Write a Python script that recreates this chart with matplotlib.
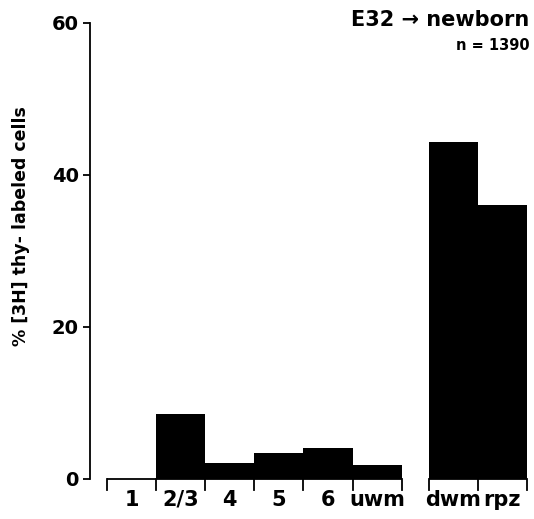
import numpy as np
import matplotlib.pyplot as plt

# Distribution of [3H]thymidine-labeled cells by layer, E32 -> newborn
cortex_layers = ['1', '2/3', '4', '5', '6', 'uwm']
cortex_values = [0.0, 8.5, 2.1, 3.4, 4.1, 1.8]
deep_layers = ['dwm', 'rpz']
deep_values = [44.3, 36.0]
y_ticks = [0, 20, 40, 60]

plt.rcParams['font.family'] = ['DejaVu Sans']
plt.rcParams['font.weight'] = 'bold'

fig = plt.figure(figsize=(5.34, 5.19), dpi=100)
ax = fig.add_axes([0.1685, 0.0771, 0.8185, 0.8786])

gap = 0.55
x1 = np.arange(len(cortex_layers))
x2 = np.arange(len(deep_layers)) + len(cortex_layers) + gap

ax.bar(x1, cortex_values, width=1.0, color='black', linewidth=0)
ax.bar(x2, deep_values, width=1.0, color='black', linewidth=0)

ax.set_xlim(-0.845, x2[-1] + 0.5)
ax.set_ylim(0, 60)

# y axis
ax.spines['top'].set_visible(False)
ax.spines['right'].set_visible(False)
ax.spines['bottom'].set_visible(False)
ax.spines['left'].set_linewidth(1.3)
ax.set_yticks(y_ticks)
ax.set_yticklabels([str(t) for t in y_ticks], fontsize=14, fontweight='bold')
ax.tick_params(axis='y', direction='out', length=5, width=1.3, pad=3)
ax.set_ylabel('% [3H] thy- labeled cells', fontsize=12.5, fontweight='bold')
ax.yaxis.set_label_coords(-0.137, 0.555)

# x axis: two separate baselines with ticks at bar edges
ax.set_xticks([])
trans = ax.get_xaxis_transform()
for xs in (x1, x2):
    edges = np.append(xs - 0.5, xs[-1] + 0.5)
    ax.plot([edges[0], edges[-1]], [0, 0], color='black', lw=1.3,
            transform=trans, clip_on=False, solid_capstyle='butt')
    for e in edges:
        ax.plot([e, e], [0, -0.024], color='black', lw=1.3,
                transform=trans, clip_on=False)

for x, lab in zip(np.concatenate([x1, x2]), cortex_layers + deep_layers):
    ax.text(x, -0.045, lab, transform=trans, ha='center', va='center',
            fontsize=15, fontweight='bold')

ax.text(1.005, 1.007, 'E32 → newborn', transform=ax.transAxes, ha='right',
        va='center', fontsize=15, fontweight='bold')
ax.text(1.005, 0.95, 'n = 1390', transform=ax.transAxes, ha='right',
        va='center', fontsize=10.5, fontweight='bold')

fig.savefig('out.png', dpi=100)
